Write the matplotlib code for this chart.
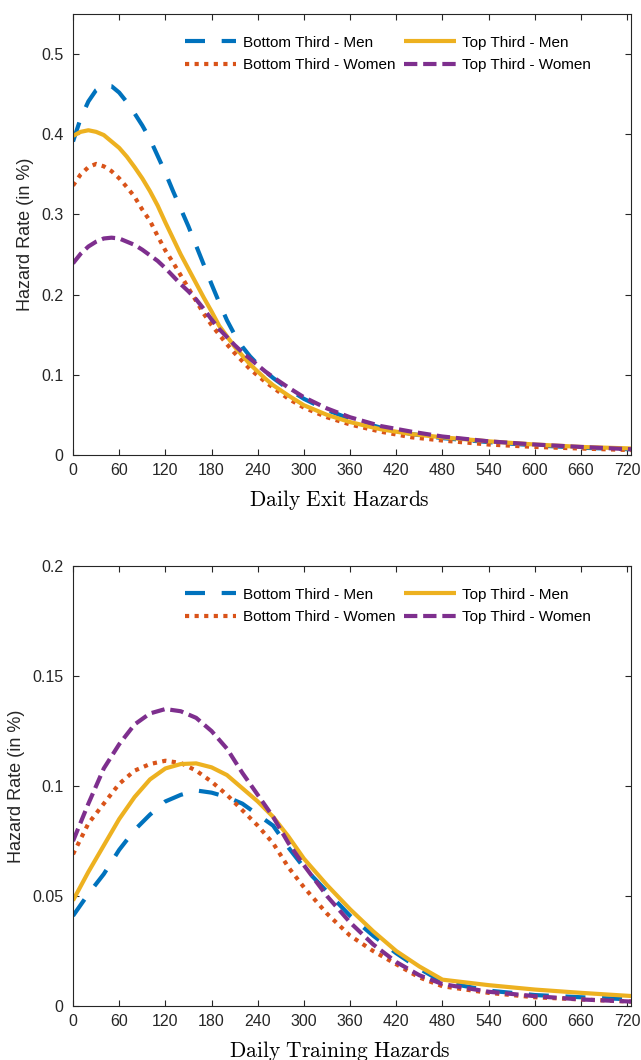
import numpy as np
import matplotlib

matplotlib.use("Agg")
from matplotlib import pyplot as plt

plt.rcParams["font.family"] = ["Liberation Sans", "DejaVu Sans"]
plt.rcParams["mathtext.fontset"] = "cm"

# %% data
# daily exit hazards
days_exit = [0, 10, 20, 30, 40, 50, 60, 70, 80, 90, 100, 110, 120, 130, 140, 150, 160, 170, 180,
             190, 200, 210, 220, 230, 240, 250, 260, 280, 300, 330, 360, 400, 440, 480, 540, 600, 660, 728]
exit_bottom_men = [0.391, 0.420, 0.441, 0.455, 0.461, 0.460, 0.452, 0.440, 0.426, 0.411, 0.394, 0.373, 0.352,
                   0.329, 0.307, 0.285, 0.261, 0.237, 0.213, 0.190, 0.168, 0.150, 0.135, 0.123, 0.113, 0.104,
                   0.096, 0.082, 0.070, 0.056, 0.045, 0.034, 0.026, 0.021, 0.016, 0.012, 0.009, 0.007]
exit_bottom_women = [0.336, 0.350, 0.359, 0.363, 0.360, 0.354, 0.345, 0.334, 0.322, 0.306, 0.292, 0.273, 0.255,
                     0.240, 0.224, 0.208, 0.192, 0.176, 0.162, 0.150, 0.138, 0.127, 0.117, 0.107, 0.099, 0.091,
                     0.084, 0.070, 0.059, 0.047, 0.038, 0.029, 0.022, 0.018, 0.013, 0.010, 0.008, 0.006]
exit_top_men = [0.398, 0.403, 0.405, 0.403, 0.399, 0.391, 0.383, 0.372, 0.359, 0.345, 0.329, 0.311, 0.290,
                0.270, 0.250, 0.232, 0.214, 0.196, 0.179, 0.161, 0.148, 0.135, 0.124, 0.113, 0.104, 0.095,
                0.087, 0.074, 0.062, 0.050, 0.041, 0.032, 0.026, 0.022, 0.017, 0.013, 0.010, 0.008]
exit_top_women = [0.239, 0.251, 0.260, 0.266, 0.270, 0.271, 0.270, 0.266, 0.262, 0.256, 0.249, 0.242, 0.233,
                  0.223, 0.213, 0.204, 0.194, 0.182, 0.169, 0.157, 0.147, 0.137, 0.128, 0.120, 0.112, 0.104,
                  0.097, 0.084, 0.072, 0.058, 0.047, 0.036, 0.029, 0.023, 0.017, 0.013, 0.010, 0.007]

# daily training hazards
days_train = [0, 20, 40, 60, 80, 100, 120, 140, 160, 180, 200, 220, 240, 260, 280,
              300, 330, 360, 390, 420, 450, 480, 540, 600, 660, 728]
train_bottom_men = [0.041, 0.051, 0.060, 0.071, 0.080, 0.087, 0.093, 0.096, 0.098, 0.097, 0.095, 0.092, 0.087,
                    0.082, 0.072, 0.063, 0.052, 0.041, 0.032, 0.024, 0.017, 0.011, 0.007, 0.005, 0.004, 0.003]
train_bottom_women = [0.069, 0.083, 0.092, 0.101, 0.107, 0.110, 0.1115, 0.1105, 0.107, 0.102, 0.096, 0.089, 0.082,
                      0.074, 0.063, 0.054, 0.042, 0.032, 0.025, 0.019, 0.013, 0.009, 0.006, 0.004, 0.003, 0.002]
train_top_men = [0.048, 0.061, 0.073, 0.085, 0.095, 0.103, 0.108, 0.110, 0.1103, 0.1085, 0.105, 0.099, 0.093,
                 0.086, 0.077, 0.067, 0.055, 0.044, 0.034, 0.025, 0.018, 0.012, 0.0095, 0.0075, 0.006, 0.0045]
train_top_women = [0.075, 0.092, 0.108, 0.119, 0.128, 0.133, 0.135, 0.134, 0.131, 0.125, 0.117, 0.106, 0.096,
                   0.086, 0.074, 0.064, 0.050, 0.038, 0.028, 0.020, 0.014, 0.010, 0.0065, 0.0045, 0.003, 0.002]

labels = ["Bottom Third - Men", "Bottom Third - Women", "Top Third - Men", "Top Third - Women"]
xticks = np.arange(0, 721, 60)

# %% styles (matlab default colours)
styles = [
    dict(color="#0072BD", dashes=(4.8, 4.0)),
    dict(color="#D95319", dashes=(1.0, 1.3)),
    dict(color="#EDB120", linestyle="-", solid_capstyle="butt"),
    dict(color="#7E2F8E", dashes=(3.2, 1.4)),
]
axis_color = "#262626"

fig = plt.figure(figsize=(6.41, 10.6), dpi=100)
ax_top = fig.add_axes([0.1139, 0.5708, 0.8705, 0.4160])
ax_bot = fig.add_axes([0.1139, 0.0509, 0.8705, 0.4151])


def draw(ax, x, series, ylim, yticks, yticklabels, xlabel, ylabel_x):
    for y, st, lab in zip(series, styles, labels):
        ax.plot(x, y, lw=3, label=lab, **st)
    ax.set_xlim(0, 725)
    ax.set_ylim(*ylim)
    ax.set_xticks(xticks)
    ax.set_yticks(yticks)
    ax.set_yticklabels(yticklabels)
    ax.tick_params(direction="in", length=4.5, width=0.8, top=True, right=True,
                   colors=axis_color, labelsize=11.5)
    ax.tick_params(axis="x", pad=6)
    ax.tick_params(axis="y", pad=7)
    for spine in ax.spines.values():
        spine.set_color(axis_color)
        spine.set_linewidth(0.8)
    ax.set_xlabel(xlabel, fontsize=15.5, color="k")
    ax.xaxis.set_label_coords(0.478, -0.074)
    ax.set_ylabel("Hazard Rate (in %)", fontsize=13, color=axis_color)
    ax.yaxis.set_label_coords(ylabel_x, 0.5)
    ax.legend(
        loc="upper left",
        bbox_to_anchor=(0.2, 0.951),
        ncol=2,
        frameon=False,
        fontsize=11,
        handlelength=3.35,
        handletextpad=0.45,
        columnspacing=0.6,
        labelspacing=0.55,
        borderpad=0,
        borderaxespad=0,
    )


draw(ax_top, days_exit,
     [exit_bottom_men, exit_bottom_women, exit_top_men, exit_top_women],
     (0, 0.55), [0, 0.1, 0.2, 0.3, 0.4, 0.5], ["0", "0.1", "0.2", "0.3", "0.4", "0.5"],
     r"$\mathrm{Daily\ Exit\ Hazards}$", -0.07)
draw(ax_bot, days_train,
     [train_bottom_men, train_bottom_women, train_top_men, train_top_women],
     (0, 0.2), [0, 0.05, 0.1, 0.15, 0.2], ["0", "0.05", "0.1", "0.15", "0.2"],
     r"$\mathrm{Daily\ Training\ Hazards}$", -0.086)

fig.savefig("out.png", dpi=100, facecolor="white")
